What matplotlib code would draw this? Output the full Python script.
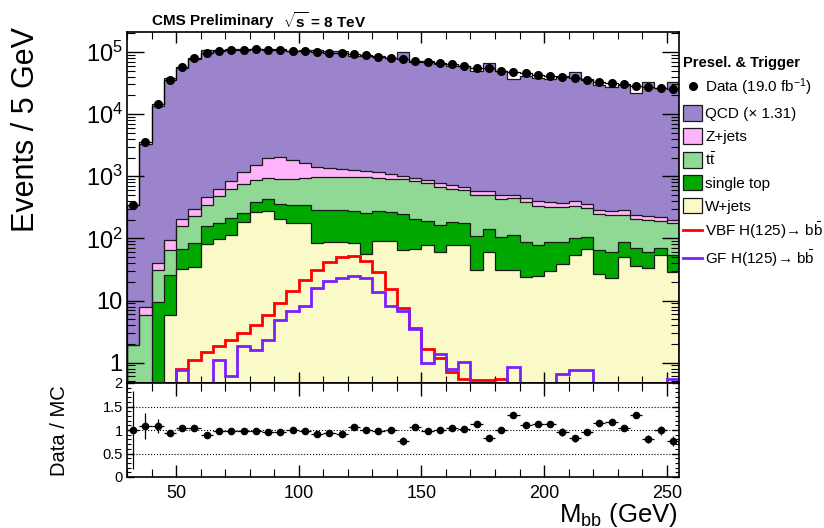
"""
Mbb distribution after preselection and trigger: stacked MC, data and
Higgs signal shapes, with data/MC ratio below.
"""
import numpy as np
import matplotlib
matplotlib.use('Agg')
import matplotlib.pyplot as plt
from matplotlib.ticker import MultipleLocator, FixedLocator, NullFormatter, LogLocator
from matplotlib.patches import Patch
from matplotlib.lines import Line2D

plt.rcParams['font.family'] = ['Liberation Sans', 'DejaVu Sans']
plt.rcParams['mathtext.fontset'] = 'custom'
plt.rcParams['mathtext.rm'] = 'Liberation Sans'
plt.rcParams['mathtext.it'] = 'Liberation Sans:italic'
plt.rcParams['mathtext.bf'] = 'Liberation Sans:bold'

# 5 GeV bins from 30 to 255 GeV
bin_lo, bin_hi, bin_w = 30, 255, 5

# data (events per bin)
data = [340, 3600, 14600, 35500, 58000, 79000, 95300, 104000, 107700, 107700,
        110000, 107700, 106000, 103800, 103800, 98900, 97500, 95300, 91600, 88300,
        84100, 81100, 77100, 72400, 69900, 65800, 63400, 60300, 55900, 54600,
        49500, 48300, 45400, 42700, 41100, 39100, 38600, 35500, 33300, 32100,
        30600, 28400, 27000, 26000, 25100]

# backgrounds (bottom of stack first)
wjets = [0, 0, 0, 5.8, 32, 34, 82, 98, 115, 182,
         270, 280, 205, 175, 175, 84, 89, 89, 84, 56,
         90, 92, 66, 67, 79, 61, 79, 79, 31, 60,
         31, 31, 24, 25, 30, 39, 55, 68, 27, 23,
         50, 36, 33, 55, 29]
single_top = [0.3, 0.4, 9.5, 20, 35, 50, 76, 80, 95, 73,
              120, 145, 155, 175, 175, 200, 200, 200, 190, 205,
              185, 178, 180, 138, 108, 104, 103, 98, 79, 81,
              74, 83, 65, 54, 59, 50, 45, 39, 38, 37,
              39, 33, 27, 16, 26]
ttbar = [1.6, 5.5, 21.5, 40, 90, 148, 190, 302, 410, 505,
         480, 525, 540, 560, 580, 675, 700, 700, 715, 698,
         665, 650, 652, 638, 586, 502, 453, 427, 381, 350,
         324, 331, 291, 257, 231, 231, 228, 201, 185, 178,
         152, 136, 135, 117, 122]
zjets = [0, 1.9, 9, 30, 46, 68, 112, 140, 230, 405,
         660, 1010, 1175, 930, 690, 430, 380, 300, 270, 250,
         210, 180, 118, 88, 102, 106, 92, 80, 78, 78,
         74, 58, 65, 58, 60, 50, 66, 53, 40, 34,
         42, 35, 31, 33, 23]
qcd = [338, 3295, 13350, 38080, 55040, 76030, 106620, 106600, 110180, 108730,
       111870, 111410, 109500, 101960, 105390, 106700, 102350, 103440, 84350, 86220,
       85550, 80000, 99110, 67370, 71190, 64380, 59650, 57860, 48900, 65210,
       49500, 36090, 40460, 37730, 35990, 40360, 46680, 36620, 28670, 27400,
       28860, 21280, 33110, 26040, 32400]

# signals (not stacked)
vbf = [0, 0, 0, 0, 0.79, 1.12, 1.49, 1.83, 2.29, 3.0,
       3.98, 5.9, 9.1, 14, 21.6, 31, 41.6, 49.4, 52.5, 43.7,
       28.3, 15.5, 7.6, 3.6, 1.65, 1.19, 0.70, 0.55, 0.52, 0.52,
       0.55, 0, 0, 0, 0, 0, 0, 0, 0, 0,
       0, 0, 0, 0, 0]
gf = [0, 0, 0, 0, 0.75, 0, 0, 1.12, 0.6, 1.85,
      1.58, 2.29, 4.9, 6.7, 8.05, 15.9, 20.8, 23, 24.4, 23,
      13.6, 8.05, 6.7, 3.5, 1.0, 1.39, 0.79, 1.02, 0, 0,
      0, 0.85, 0, 0, 0, 0.65, 0.75, 0.75, 0, 0,
      0, 0, 0, 0, 0.55]

# uncertainty on data/MC
ratio_err = [0.82, 0.28, 0.15, 0.05, 0.04, 0.04, 0.05, 0.04, 0.04, 0.04,
             0.04, 0.04, 0.04, 0.04, 0.04, 0.04, 0.04, 0.04, 0.04, 0.04,
             0.04, 0.04, 0.08, 0.05, 0.04, 0.04, 0.04, 0.04, 0.05, 0.07,
             0.05, 0.05, 0.05, 0.05, 0.04, 0.08, 0.08, 0.05, 0.05, 0.05,
             0.05, 0.05, 0.08, 0.10, 0.10]

bkg_names = ['W+jets', 'single top', r't$\bar{\mathrm{t}}$', 'Z+jets', 'QCD (× 1.31)']
bkg_colors = ['#fafac8', '#00a800', '#8fd994', '#ffb4fa', '#9b84cb']
edge_col = '#1a1a1a'


def main():
    edges = np.arange(bin_lo, bin_hi + bin_w, bin_w)
    centers = 0.5 * (edges[:-1] + edges[1:])
    ylo, yhi = 0.47, 2.1e5
    floor = 1e-2

    W, H = 824, 528
    fig = plt.figure(figsize=(W / 100, H / 100), dpi=100)
    ax = fig.add_axes([127 / W, 1 - 383 / H, 552 / W, 351 / H])
    rax = fig.add_axes([127 / W, 1 - 477 / H, 552 / W, 94 / H], sharex=ax)

    # stacked backgrounds, drawn from the total downwards
    comps = np.vstack([wjets, single_top, ttbar, zjets, qcd]).astype(float)
    cum = np.cumsum(comps, axis=0)
    for i in reversed(range(len(comps))):
        top = np.maximum(cum[i], floor)
        ax.stairs(top, edges, baseline=floor, fill=True, color=bkg_colors[i], zorder=1)
        ax.stairs(top, edges, baseline=floor, color=edge_col, lw=0.9, zorder=2)

    # signal shapes, values below the frame are drawn on the frame
    ax.stairs(np.clip(vbf, ylo, None), edges, baseline=None, color='#ff0000', lw=2, zorder=3)
    ax.stairs(np.clip(gf, ylo, None), edges, baseline=None, color='#7b1fff', lw=2, zorder=3)

    # data
    data_arr = np.array(data, dtype=float)
    ax.stairs(data_arr, edges, baseline=None, color='black', lw=0.9, zorder=4)
    ax.plot(centers, data_arr, 'o', color='black', ms=5.5, zorder=5)

    ax.set_yscale('log')
    ax.set_ylim(ylo, yhi)
    ax.set_xlim(bin_lo, bin_hi)
    ax.yaxis.set_major_locator(FixedLocator([1, 10, 1e2, 1e3, 1e4, 1e5]))
    ax.set_yticklabels(['1', '10', '$10^{2}$', '$10^{3}$', '$10^{4}$', '$10^{5}$'])
    ax.yaxis.set_minor_locator(LogLocator(base=10, subs=np.arange(2, 10)))
    ax.yaxis.set_minor_formatter(NullFormatter())
    ax.xaxis.set_major_locator(MultipleLocator(50))
    ax.xaxis.set_minor_locator(MultipleLocator(10))
    ax.tick_params(which='both', direction='in', top=True, right=True, labelbottom=False)
    ax.tick_params(axis='y', which='major', length=12, width=1, labelsize=17, pad=3)
    ax.tick_params(axis='y', which='minor', length=6, width=0.8)
    ax.tick_params(axis='x', which='major', length=8, width=1)
    ax.tick_params(axis='x', which='minor', length=5, width=0.8)
    for sp in ax.spines.values():
        sp.set_linewidth(1.2)
        sp.set_zorder(6)

    # ratio panel
    mc_total = cum[-1]
    ratio = data_arr / mc_total
    for lvl in (0.5, 1.0, 1.5):
        rax.axhline(lvl, color='black', ls=':', lw=0.8)
    rax.errorbar(centers, ratio, xerr=bin_w / 2, yerr=ratio_err, fmt='o',
                 color='black', ms=4.5, elinewidth=0.9, capsize=0)
    rax.set_ylim(0, 2)
    rax.set_xlim(bin_lo, bin_hi)
    rax.yaxis.set_major_locator(FixedLocator([0, 0.5, 1, 1.5, 2]))
    rax.set_yticklabels(['0', '0.5', '1', '1.5', '2'])
    rax.yaxis.set_minor_locator(MultipleLocator(0.1))
    rax.xaxis.set_major_locator(MultipleLocator(50))
    rax.xaxis.set_minor_locator(MultipleLocator(10))
    rax.tick_params(which='both', direction='in', top=True, right=True)
    rax.tick_params(axis='x', which='major', length=9, width=1, labelsize=13, pad=6)
    rax.tick_params(axis='x', which='minor', length=6, width=0.8)
    rax.tick_params(axis='y', which='major', length=5, width=1, labelsize=10.5, pad=3)
    rax.tick_params(axis='y', which='minor', length=3, width=0.8)
    for sp in rax.spines.values():
        sp.set_linewidth(1.2)

    # axis titles and header
    fig.text(26 / W, 1 - 130 / H, 'Events / 5 GeV', rotation=90, fontsize=22,
             ha='center', va='center')
    fig.text(60 / W, 1 - 431 / H, 'Data / MC', rotation=90, fontsize=14.5,
             ha='center', va='center')
    fig.text(678 / W, 1 - 522 / H, r'M$_{\mathrm{bb}}$ (GeV)', fontsize=18.5,
             ha='right', va='baseline')
    fig.text(152 / W, 1 - 21 / H, 'CMS Preliminary', fontsize=11, fontweight='bold',
             ha='left', va='center')
    fig.text(283 / W, 1 - 21 / H, r'$\sqrt{\mathbf{s}}$ = 8 TeV', fontsize=11,
             fontweight='bold', ha='left', va='center')

    # legend
    handles = [Line2D([], [], marker='o', color='black', ls='none', ms=5.5)]
    labels = ['Data (19.0 fb$^{-1}$)']
    for i in reversed(range(len(comps))):
        handles.append(Patch(facecolor=bkg_colors[i], edgecolor=edge_col, lw=0.9))
        labels.append(bkg_names[i])
    handles += [Line2D([], [], color='#ff0000', lw=2), Line2D([], [], color='#7b1fff', lw=2)]
    labels += ['VBF H(125)→ b$\\bar{\\mathrm{b}}$',
               'GF H(125)→ b$\\bar{\\mathrm{b}}$']
    fig.legend(handles, labels, loc='upper left', bbox_to_anchor=(683 / W, 1 - 56 / H),
               frameon=False, fontsize=11, title='Presel. & Trigger',
               title_fontproperties={'weight': 'bold', 'size': 10.5}, alignment='left',
               borderpad=0, borderaxespad=0, handlelength=1.25, handleheight=1.2,
               handletextpad=0.2, labelspacing=0.45)

    fig.savefig('out.png', dpi=100)
    plt.close(fig)


if __name__ == "__main__":
    main()
